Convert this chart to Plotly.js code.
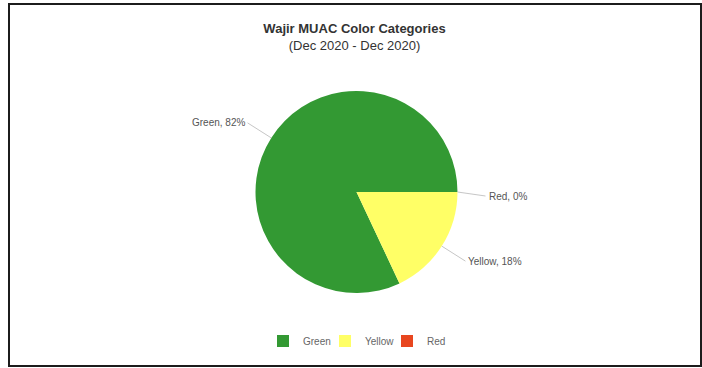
<!DOCTYPE html>
<html>
<head>
<meta charset="utf-8">
<script src="https://cdn.plot.ly/plotly-3.0.1.min.js"></script>
<style>
  html, body { margin: 0; padding: 0; background: #fff; }
  #wrap { position: relative; width: 702px; height: 368px; }
  #chart { position: absolute; left: 0; top: 0; width: 702px; height: 368px; }
  #frame { position: absolute; left: 8px; top: 3px; width: 694px; height: 364px;
           box-sizing: border-box; border: 2px solid #1c1c1c; pointer-events: none; }
</style>
</head>
<body>
<div id="wrap">
  <div id="chart"></div>
  <div id="frame"></div>
</div>
<script>
// ---- data ----
const categories = ["Green", "Yellow", "Red"];
const shares = [82, 18, 0];
const sliceColors = ["#339933", "#ffff66", "#e8461f"];
const titleText = "Wajir MUAC Color Categories";
const subtitleText = "(Dec 2020 - Dec 2020)";

// ---- layout geometry ----
const W = 702, H = 368;
const cx = 356.5, cy = 192, R = 101;

const domX = [(cx - R) / W, (cx + R) / W];
const domY = [(H - (cy + R)) / H, (H - (cy - R)) / H];

const total = shares.reduce((a, b) => a + b, 0);
// slices run counterclockwise starting at 3 o'clock; in plotly's counterclockwise
// mode the first slice spans clockwise from `rotation`, so offset by its size
const rotation = 90 - 360 * shares[0] / total;

// leader-line annotations computed from slice angles (counterclockwise from 3 o'clock)
let cum = 0;
const annotations = categories.map((c, i) => {
  const frac = shares[i] / total;
  const midDeg = (cum + frac / 2) * 360;
  cum += frac;
  const a = midDeg * Math.PI / 180;
  const ex = cx + R * Math.cos(a);
  const ey = cy - R * Math.sin(a);
  const left = Math.cos(a) < -0.01;
  return {
    xref: "paper", yref: "paper",
    x: ex / W, y: (H - ey) / H,
    ax: 28 * Math.cos(a), ay: -28 * Math.sin(a) + (Math.abs(Math.sin(a)) < 0.01 ? 4 : 0),
    showarrow: true, arrowhead: 0, arrowwidth: 0.8, arrowcolor: "#b8b8b8",
    xanchor: left ? "right" : "left", yanchor: "middle",
    text: c + ", " + Math.round(frac * 100) + "%",
    font: { family: "Liberation Sans, Arial, sans-serif", size: 10, color: "#555" },
    borderpad: 2
  };
});

const trace = {
  type: "pie",
  labels: categories,
  values: shares,
  marker: { colors: sliceColors, line: { width: 0 } },
  sort: false,
  direction: "counterclockwise",
  rotation: rotation,
  textinfo: "none",
  hoverinfo: "label+percent",
  domain: { x: domX, y: domY }
};

const layout = {
  width: W, height: H,
  margin: { l: 0, r: 0, t: 0, b: 0 },
  paper_bgcolor: "#ffffff",
  font: { family: "Liberation Sans, Arial, sans-serif", color: "#333" },
  title: {
    text: "<b>" + titleText + "</b><br>" + subtitleText,
    font: { family: "Liberation Sans, Arial, sans-serif", size: 13, color: "#333" },
    x: 354.5 / W, xanchor: "center",
    xref: "paper",
    y: 1 - 33 / H, yanchor: "top", yref: "container"
  },
  showlegend: true,
  legend: {
    orientation: "h",
    x: 356 / W, xanchor: "center",
    y: (H - 341) / H, yanchor: "middle",
    font: { family: "Liberation Sans, Arial, sans-serif", size: 10, color: "#666" },
    itemwidth: 30,
    entrywidth: 17,
    entrywidthmode: "pixels"
  },
  annotations: annotations
};

Plotly.newPlot("chart", [trace], layout, { displayModeBar: false, staticPlot: true });
</script>
</body>
</html>
